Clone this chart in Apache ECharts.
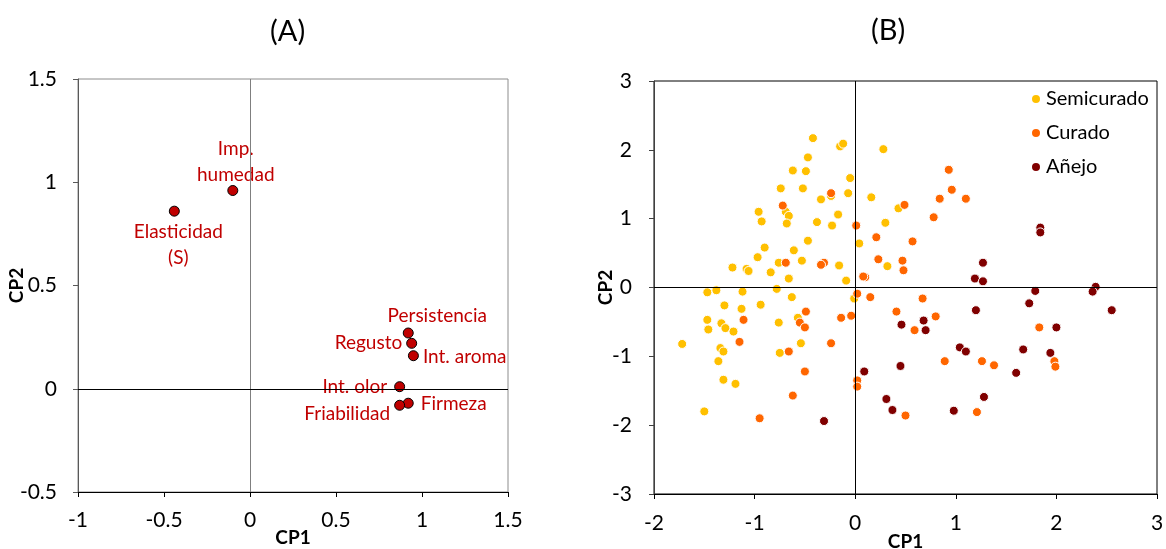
<!DOCTYPE html>
<html>
<head>
<meta charset="utf-8">
<script src="https://cdn.jsdelivr.net/npm/echarts@6/dist/echarts.min.js"></script>
<style>
  html, body { margin: 0; padding: 0; background: #fff; }
  #chart { width: 1166px; height: 549px; }
</style>
</head>
<body>
<div id="chart"></div>
<script>
// (A) cargas de los atributos
const aNames = ['Imp.\nhumedad', 'Elasticidad\n(S)', 'Persistencia', 'Regusto', 'Int. aroma', 'Int. olor', 'Firmeza', 'Friabilidad']
const aCP1 = [-0.10, -0.44, 0.92, 0.94, 0.95, 0.87, 0.92, 0.87]
const aCP2 = [0.96, 0.86, 0.27, 0.22, 0.16, 0.01, -0.07, -0.08]

// (B) puntuaciones de las muestras [CP1, CP2]
const semicurado = [
  [-0.42, 2.17], [-0.15, 2.05], [-0.12, 2.09], [0.28, 2.01], [-0.47, 1.89],
  [-0.62, 1.70], [-0.49, 1.69], [-0.05, 1.59], [-0.74, 1.44], [-0.52, 1.44],
  [-0.24, 1.33], [-0.07, 1.37], [-0.34, 1.28], [0.16, 1.31], [-0.69, 1.10],
  [-0.66, 1.04], [-0.96, 1.10], [-0.93, 0.96], [-0.68, 0.93], [-0.17, 1.06],
  [-0.38, 0.95], [-0.23, 0.90], [0.43, 1.15], [0.30, 0.94], [0.04, 0.64],
  [-0.90, 0.58], [-0.47, 0.68], [-0.61, 0.54], [-0.97, 0.44], [-1.22, 0.29],
  [-1.08, 0.27], [-1.06, 0.24], [-0.84, 0.22], [-0.76, 0.36], [-0.53, 0.39],
  [-0.16, 0.32], [-0.66, 0.13], [-0.09, 0.10], [0.32, 0.31], [-1.47, -0.07],
  [-1.38, -0.04], [-1.12, -0.06], [-0.78, -0.02], [-0.63, -0.14], [-0.01, -0.16],
  [-1.30, -0.26], [-1.13, -0.31], [-0.94, -0.25], [-1.47, -0.47], [-1.33, -0.52],
  [-1.29, -0.59], [-1.46, -0.61], [-1.21, -0.64], [-0.76, -0.51], [-0.57, -0.44],
  [-1.72, -0.82], [-1.34, -0.88], [-1.31, -0.93], [-1.36, -1.07], [-0.75, -0.95],
  [-0.54, -0.81], [-1.31, -1.34], [-1.19, -1.40], [-1.50, -1.80]
]
const curado = [
  [-0.24, 1.37], [-0.72, 1.19], [0.01, 0.90], [0.21, 0.73], [-0.69, 0.36],
  [-0.31, 0.36], [-0.34, 0.33], [0.10, 0.15], [0.08, 0.16], [0.23, 0.41],
  [0.93, 1.71], [0.96, 1.42], [0.84, 1.29], [1.10, 1.29], [0.78, 1.02],
  [0.49, 1.20], [0.57, 0.67], [0.47, 0.39], [0.48, 0.25], [0.02, -0.09],
  [0.15, -0.14], [-0.49, -0.35], [-1.11, -0.47], [-0.55, -0.51], [-0.50, -0.58],
  [-0.14, -0.44], [-0.04, -0.41], [0.41, -0.35], [0.67, -0.16], [0.59, -0.62],
  [0.80, -0.42], [1.83, -0.58], [1.98, -1.07], [1.99, -1.15], [0.89, -1.07],
  [1.26, -1.07], [1.38, -1.13], [-1.15, -0.79], [-0.66, -0.93], [-0.24, -0.81],
  [-0.50, -1.22], [0.02, -1.35], [0.02, -1.44], [-0.62, -1.57], [-0.95, -1.90],
  [0.50, -1.86], [1.21, -1.81]
]
const anejo = [
  [1.27, 0.36], [1.19, 0.13], [1.27, 0.09], [1.84, 0.87], [1.84, 0.80],
  [1.79, -0.05], [2.39, 0.01], [2.36, -0.06], [0.46, -0.54], [0.68, -0.48],
  [0.70, -0.62], [1.20, -0.33], [1.73, -0.23], [2.55, -0.33], [2.00, -0.58],
  [1.04, -0.87], [1.10, -0.93], [1.67, -0.90], [1.94, -0.95], [1.60, -1.24],
  [0.45, -1.14], [0.09, -1.22], [0.31, -1.62], [0.37, -1.78], [0.98, -1.79],
  [1.28, -1.59], [-0.31, -1.94]
]

const FONT = "Lato, 'Open Sans', sans-serif"
const RED = '#C00000'

// posición de cada etiqueta del panel A
const labelPos = {
  'Imp.\nhumedad': { position: 'top', distance: 0, offset: [3, 3] },
  'Elasticidad\n(S)': { position: 'bottom', distance: 2, offset: [4, 0] },
  'Persistencia': { position: 'top', distance: 4, offset: [29, 5] },
  'Regusto': { position: 'left', distance: 4, offset: [0, 0] },
  'Int. aroma': { position: 'right', distance: 4, offset: [0, 1] },
  'Int. olor': { position: 'left', distance: 7, offset: [0, 0] },
  'Firmeza': { position: 'right', distance: 7, offset: [0, 1] },
  'Friabilidad': { position: 'left', distance: 4, offset: [0, 9] }
}

const loadings = aNames.map((n, i) => {
  const lp = labelPos[n]
  const lab = Object.assign({ show: true, formatter: '{b}' }, lp)
  if (lp.position === 'left') lab.align = 'right'
  if (lp.position === 'right') lab.align = 'left'
  return { name: n, value: [aCP1[i], aCP2[i]], label: lab }
})

const dom = document.getElementById('chart')
const myChart = echarts.init(dom, null, { renderer: 'canvas' })

function axisCommon (gridIndex, min, max, interval, lineColor) {
  return {
    gridIndex: gridIndex,
    type: 'value',
    min: min,
    max: max,
    interval: interval,
    splitLine: { show: false },
    axisLine: { show: true, onZero: false, lineStyle: { color: lineColor, width: 1 } },
    axisTick: { show: true, length: 5, lineStyle: { color: lineColor } },
    axisLabel: { color: '#000', fontSize: 21, fontFamily: FONT },
    nameLocation: 'middle',
    nameMoveOverlap: false,
    nameTextStyle: { color: '#000', fontSize: 19, fontWeight: 'bold', fontFamily: FONT }
  }
}

const xA = Object.assign(axisCommon(0, -1, 1.5, 0.5, '#000'), { name: 'CP1', nameGap: 36 })
xA.axisLabel.margin = 18
const yA = Object.assign(axisCommon(0, -0.5, 1.5, 0.5, '#595959'), { name: 'CP2', nameGap: 52 })
yA.axisLabel.margin = 21
const xB = Object.assign(axisCommon(1, -2, 3, 1, '#000'), { name: 'CP1', nameGap: 38 })
xB.axisLabel.margin = 19
const yB = Object.assign(axisCommon(1, -3, 3, 1, '#404040'), { name: 'CP2', nameGap: 39 })
yB.axisLabel.margin = 22

function scoreSeries (name, data, color) {
  return {
    name: name,
    type: 'scatter',
    xAxisIndex: 1,
    yAxisIndex: 1,
    data: data,
    symbolSize: 9,
    itemStyle: { color: color, borderColor: '#fff', borderWidth: 1, opacity: 1 }
  }
}

const option = {
  animation: false,
  backgroundColor: '#fff',
  textStyle: { fontFamily: FONT },
  graphic: [
    { type: 'text', left: 270, top: 17, style: { text: '(A)', fontSize: 29, fontFamily: FONT, fill: '#000' } },
    { type: 'text', left: 871, top: 16, style: { text: '(B)', fontSize: 29, fontFamily: FONT, fill: '#000' } }
  ],
  grid: [
    { left: 78, top: 79, width: 430, height: 413, show: true, borderColor: '#8c8c8c', borderWidth: 1, outerBoundsMode: 'none', containLabel: false },
    { left: 654, top: 81, width: 503, height: 413, show: true, borderColor: '#000', borderWidth: 1, outerBoundsMode: 'none', containLabel: false }
  ],
  xAxis: [xA, xB],
  yAxis: [yA, yB],
  legend: {
    orient: 'vertical',
    left: 1025,
    top: 84,
    itemWidth: 10,
    itemHeight: 10,
    itemGap: 14,
    icon: 'circle',
    textStyle: { fontSize: 20, color: '#000', fontFamily: FONT },
    data: ['Semicurado', 'Curado', 'Añejo']
  },
  series: [
    {
      name: 'Atributos',
      type: 'scatter',
      xAxisIndex: 0,
      yAxisIndex: 0,
      data: loadings,
      symbolSize: 10,
      itemStyle: { color: RED, borderColor: '#000', borderWidth: 1, opacity: 1 },
      label: { color: RED, fontSize: 19, fontFamily: FONT, lineHeight: 26, align: 'center' },
      markLine: {
        silent: true,
        symbol: 'none',
        label: { show: false },
        data: [
          { xAxis: 0, lineStyle: { color: '#7f7f7f', width: 1, type: 'solid' } },
          { yAxis: 0, lineStyle: { color: '#000', width: 1, type: 'solid' } }
        ]
      },
      z: 3
    },
    Object.assign(scoreSeries('Semicurado', semicurado, '#FFC000'), {
      markLine: {
        silent: true,
        symbol: 'none',
        label: { show: false },
        lineStyle: { color: '#000', width: 1, type: 'solid' },
        data: [{ xAxis: 0 }, { yAxis: 0 }]
      }
    }),
    scoreSeries('Curado', curado, '#FF6600'),
    scoreSeries('Añejo', anejo, '#800000')
  ]
}

myChart.setOption(option)
</script>
</body>
</html>
